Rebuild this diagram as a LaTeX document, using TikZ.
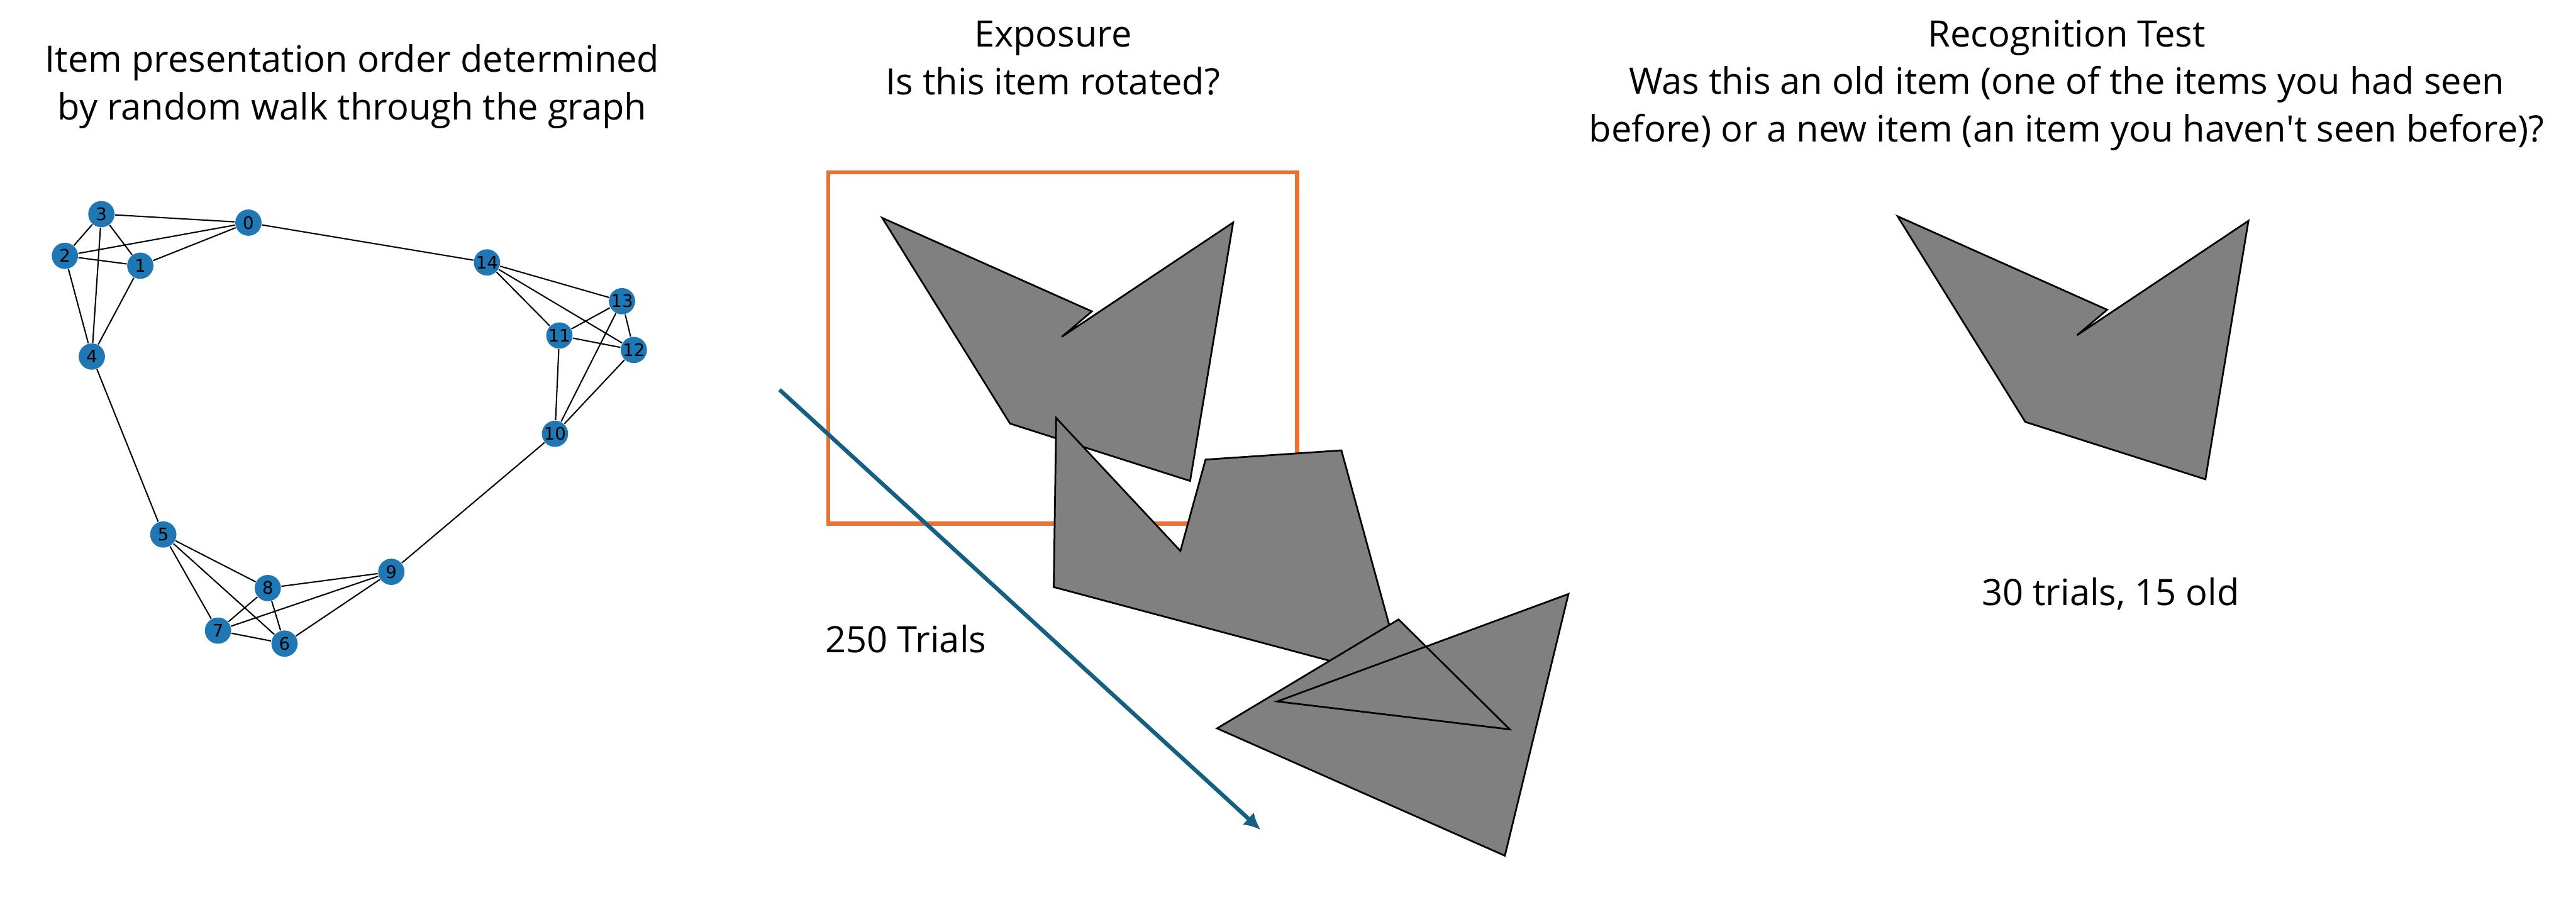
\documentclass[tikz,border=0pt]{standalone}
\usepackage{fontspec}
\setmainfont{Open Sans}
\newfontfamily\graphfont{DejaVu Sans}
\usetikzlibrary{arrows.meta, positioning}
\definecolor{mnode}{HTML}{1F77B4}
\definecolor{morange}{HTML}{E97132}
\definecolor{mteal}{HTML}{156082}
\definecolor{mshape}{HTML}{808080}
\tikzset{
  caption/.style={align=center, inner sep=0pt, font=\fontsize{12.6}{16.5}\selectfont},
  itemshape/.style={draw=black, fill=mshape, line width=0.6pt},
  frame/.style={draw=morange, line width=1.4pt},
  arr/.style={-{Latex[length=5.8pt,width=5.7pt]}, line width=1.4pt, mteal},
}
% outline of the item shown in the frame and again at test
\newcommand{\olditem}{(537,132.6) -- (664.6,189.5) -- (646.3,205) -- (750.6,135.4)
  -- (724.4,292.7) -- (614.8,257.8) -- cycle}

\begin{document}
\begin{tikzpicture}[x=0.02cm, y=-0.02cm,
   vtx/.style={circle, fill=mnode, minimum size=0.32cm, inner sep=0pt,
               font=\graphfont\fontsize{6}{6}\selectfont},
   gedge/.style={line width=0.45pt, black}]
  \useasboundingbox (0,0) rectangle (1568,552);

  % headings (base = baseline of the last line)
  \node[caption, anchor=base] (walk) at (214.4,73)
    {Item presentation order determined\\by random walk through the graph};
  \node[caption, anchor=base] (expo) at (641,57.6)
    {Exposure\\Is this item rotated?};
  \node[caption, anchor=base] (recog) at (1258,86.4)
    {Recognition Test\\Was this an old item (one of the items you had seen\\before) or a new item (an item you haven\textquotesingle t seen before)?};

  % graph
  \node[vtx] (g0) at (151.2,135.5) {0};
  \node[vtx] (g1) at (85.4,161.7) {1};
  \node[vtx] (g2) at (39.5,155.7) {2};
  \node[vtx] (g3) at (61.7,130.3) {3};
  \node[vtx] (g4) at (55.9,217) {4};
  \node[vtx] (g5) at (99.4,325.3) {5};
  \node[vtx] (g6) at (173.2,391.7) {6};
  \node[vtx] (g7) at (132.7,383.8) {7};
  \node[vtx] (g8) at (163,357.9) {8};
  \node[vtx] (g9) at (238.2,348) {9};
  \node[vtx] (g10) at (337.8,264) {10};
  \node[vtx] (g11) at (340.5,204.2) {11};
  \node[vtx] (g12) at (385.8,213) {12};
  \node[vtx] (g13) at (378.6,183.3) {13};
  \node[vtx] (g14) at (296.4,159.7) {14};
  \foreach \a/\b in {0/3,0/2,0/1,0/14,3/2,3/1,3/4,2/1,2/4,1/4,4/5,
                     5/8,5/7,5/6,8/9,8/7,8/6,7/9,7/6,6/9,9/10,
                     10/11,10/13,10/12,11/13,11/12,11/14,14/13,14/12,13/12}
    \draw[gedge] (g\a) -- (g\b);

  % exposure stream
  \draw[frame] (504.1,104.9) rectangle (789.6,318.7);
  \draw[itemshape] \olditem;
  \draw[itemshape] (642.9,254.4) -- (718.5,335.3) -- (733.8,279.7) -- (816.5,274.1)
    -- (854.9,414.3) -- (641.4,357.3) -- cycle;
  \draw[itemshape] (740.8,443.3) -- (851.3,377) -- (919,443.9) -- (777.4,426.9)
    -- (954.7,361.5) -- (916,520.8) -- cycle;
  \coordinate (tstart) at (474.5,237.2);
  \coordinate (tend) at (767.4,505.1);
  \draw[arr] (tstart) -- (tend);
  \node[caption, anchor=base west] (ntrials) at (502,397.3) {250 Trials};

  % recognition test
  \draw[itemshape, shift={(618,-1)}] \olditem;
  \node[caption, anchor=base] (ntest) at (1284.7,368.6) {30 trials, 15 old};
\end{tikzpicture}
\end{document}
